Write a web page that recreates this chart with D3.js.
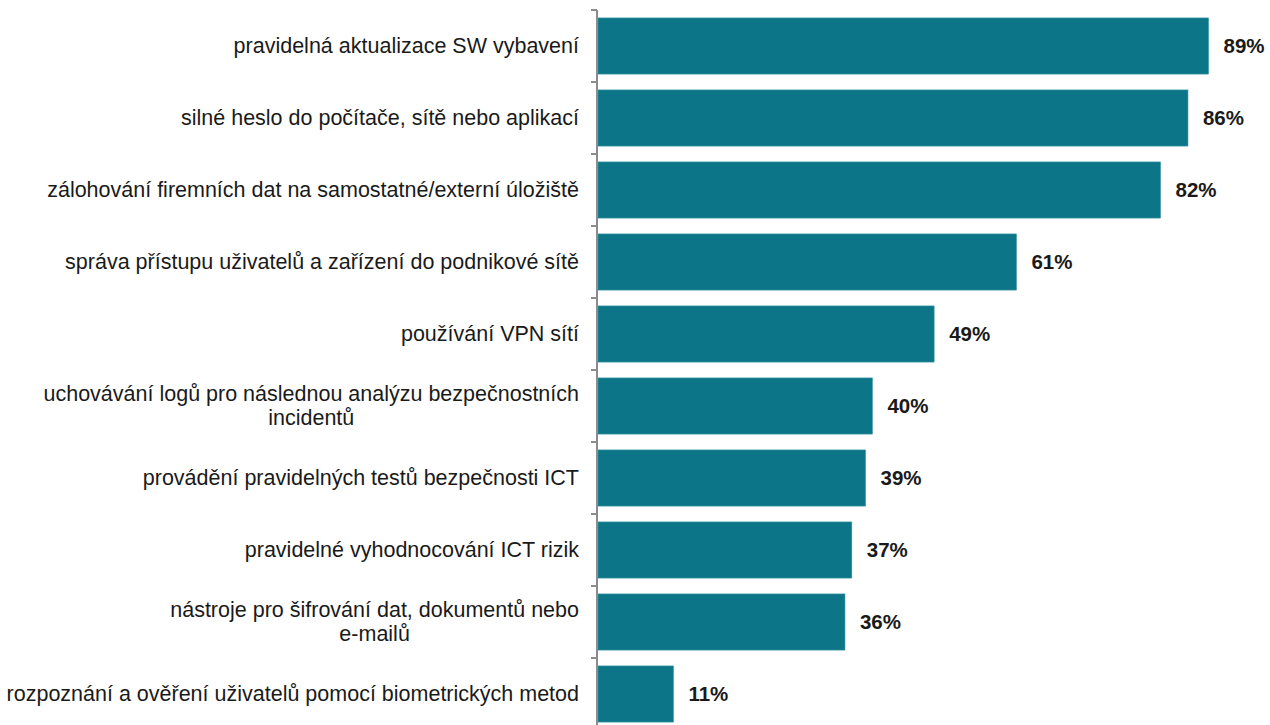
<!DOCTYPE html>
<html><head><meta charset="utf-8">
<script src="https://cdn.jsdelivr.net/npm/d3@7"></script>
<style>body{margin:0;background:#fff}svg{display:block}</style>
</head><body>
<svg id="c" width="1270" height="725"></svg>
<script>
const categories = [
  ["pravidelná aktualizace SW vybavení"],
  ["silné heslo do počítače, sítě nebo aplikací"],
  ["zálohování firemních dat na samostatné/externí úložiště"],
  ["správa přístupu uživatelů a zařízení do podnikové sítě"],
  ["používání VPN sítí"],
  ["uchovávání logů pro následnou analýzu bezpečnostních", "incidentů"],
  ["provádění pravidelných testů bezpečnosti ICT"],
  ["pravidelné vyhodnocování ICT rizik"],
  ["nástroje pro šifrování dat, dokumentů nebo", "e-mailů"],
  ["rozpoznání a ověření uživatelů pomocí biometrických metod"]
];
const values = [89, 86, 82, 61, 49, 40, 39, 37, 36, 11];
const valueLabels = ["89%", "86%", "82%", "61%", "49%", "40%", "39%", "37%", "36%", "11%"];

const svg = d3.select("#c");
const x0 = 597;
const x = d3.scaleLinear().domain([0, 100]).range([x0, x0 + 686]);
const y = d3.scaleBand().domain(d3.range(values.length)).range([10, 730]).paddingInner(0.22).paddingOuter(0.11);

// bars
svg.selectAll("rect.bar").data(values).join("rect")
  .attr("x", x(0) + 1)
  .attr("y", (d, i) => y(i))
  .attr("width", d => x(d) - x(0))
  .attr("height", y.bandwidth())
  .attr("fill", "#0c7588")
  .attr("stroke", "#3d98a6").attr("stroke-width", 0.6);

// axis line and ticks
const step = y.step();
svg.append("line").attr("x1", x0).attr("x2", x0).attr("y1", 10).attr("y2", 725)
  .attr("stroke", "#8c8c8c").attr("stroke-width", 2);
const ticks = d3.range(values.length + 1).map(i => 10 + i * step);
svg.selectAll("line.tick").data(ticks).join("line")
  .attr("x1", x0 - 6).attr("x2", x0).attr("y1", d => d).attr("y2", d => d)
  .attr("stroke", "#8c8c8c").attr("stroke-width", 2);

// category labels
const lab = svg.selectAll("text.cat").data(categories).join("text")
  .attr("text-anchor", "middle")
  .attr("font-family", "Liberation Sans, Arial, sans-serif")
  .attr("font-size", 21.5)
  .attr("fill", "#1a1a1a");
lab.each(function(lines, i) {
  const t = d3.select(this);
  const cy = y(i) + y.bandwidth() / 2;
  const lh = 24;
  const startY = cy - (lines.length - 1) * lh / 2 + 7;
  lines.forEach((l, k) => {
    t.append("tspan").attr("y", startY + k * lh).text(l);
  });
});
lab.each(function() {
  const spans = d3.select(this).selectAll("tspan").nodes();
  const w = d3.max(spans, s => s.getComputedTextLength());
  spans.forEach(s => d3.select(s).attr("x", 579 - w / 2));
});

// value labels
svg.selectAll("text.val").data(values).join("text")
  .attr("x", d => x(d) + 16)
  .attr("y", (d, i) => y(i) + y.bandwidth() / 2 + 7)
  .attr("font-family", "Liberation Sans, Arial, sans-serif")
  .attr("font-weight", "bold")
  .attr("font-size", 20.5)
  .attr("fill", "#1a1a1a")
  .text((d, i) => valueLabels[i]);
</script>
</body></html>
